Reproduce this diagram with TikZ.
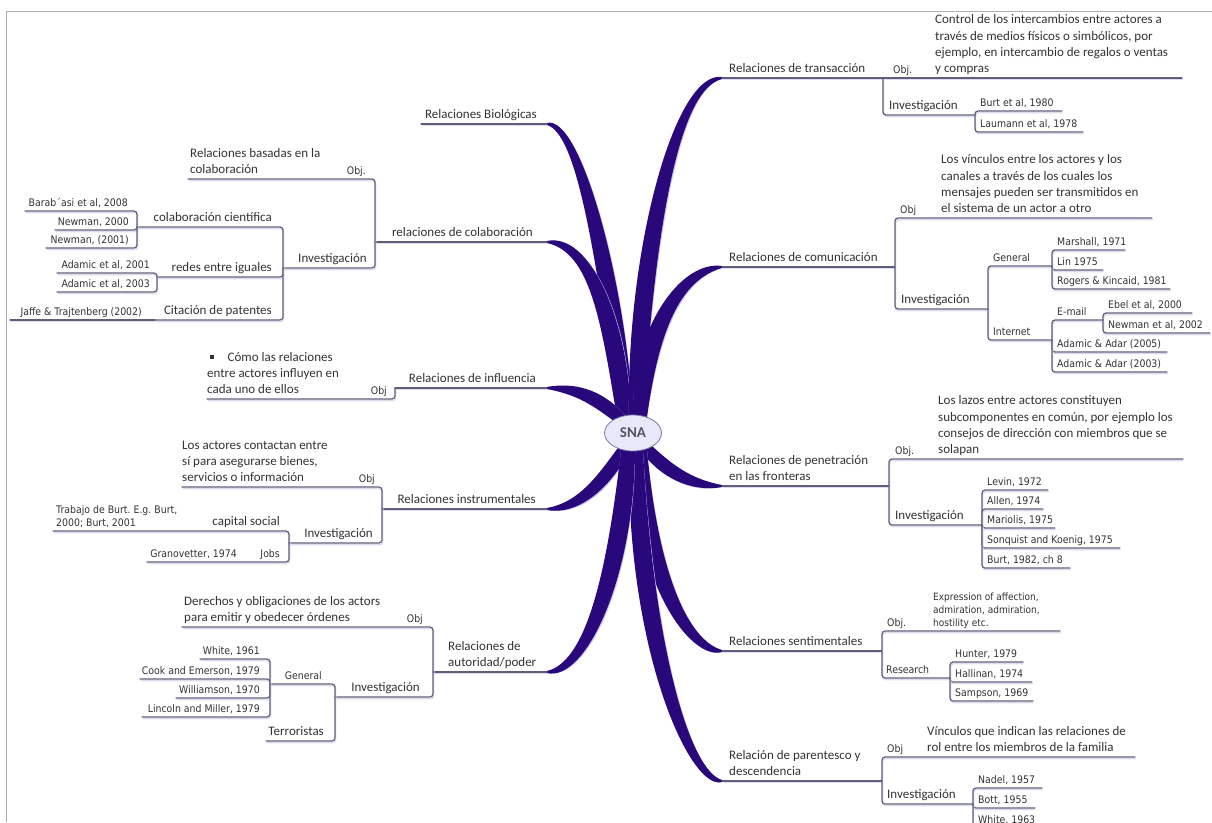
\documentclass[tikz,border=0pt]{standalone}
\usepackage{fontspec}
\setmainfont{Carlito}
\newfontfamily\reffam[FakeStretch=0.9]{DejaVu Sans}
\usetikzlibrary{calc,shapes.geometric,backgrounds}
\definecolor{branchcol}{RGB}{40,8,122}
\definecolor{branchhalo}{RGB}{200,190,245}
\definecolor{linecol}{RGB}{95,95,125}
\definecolor{shadowcol}{RGB}{220,220,234}
\definecolor{textcol}{RGB}{50,50,55}
\definecolor{ellfill}{RGB}{232,232,250}
\definecolor{elldraw}{RGB}{120,120,165}
\definecolor{framecol}{RGB}{175,175,175}
\definecolor{snatext}{RGB}{85,85,95}
\newcommand\topicfont{\fontsize{13}{16.4}\selectfont}
\newcommand\reffont{\fontsize{10.4}{13}\selectfont\reffam}
% #1 start, #2 c1, #3 c2, #4 end, #5 half-width normal at start, #6 factor at c1, #7 factor at c2, #8 half-width normal at end
\newcommand\tbranchpath[8]{($(#1)+#5$) .. controls ($#2+#6*#5$) and ($#3+#7*#8$) .. ($(#4)+#8$) -- ($(#4)-#8$) .. controls ($#3-#7*#8$) and ($#2-#6*#5$) .. ($(#1)-#5$) -- cycle}
\newcommand\tbranch[8]{%
 \fill[branchhalo,shift={(1.3pt,-1.3pt)}] \tbranchpath{#1}{#2}{#3}{#4}{#5}{#6}{#7}{#8};
 \fill[branchcol] \tbranchpath{#1}{#2}{#3}{#4}{#5}{#6}{#7}{#8};}
\tikzset{
 txt/.style={inner sep=0pt, text=textcol, font=\topicfont, execute at end node=\strut},
 reft/.style={txt, font=\reffont},
 multi/.style={align=left},
 tline/.style={draw=linecol, line width=1.2pt, rounded corners=3pt, line cap=round,
   preaction={draw=shadowcol, line width=1.6pt, transform canvas={shift={(0.6pt,-1.6pt)}}}},
}
\frenchspacing
\begin{document}
\begin{tikzpicture}[x=1pt,y=-1pt]
\useasboundingbox (0,0) rectangle (1212,822);
\clip (0,0) rectangle (1212,822);
\draw[framecol, line width=1pt] (1212,11) -- (6,11) -- (6,822);

% centre
\node[ellipse, draw=elldraw, fill=ellfill, line width=0.8pt, minimum width=57pt, minimum height=36pt, inner sep=0pt, font=\fontsize{15}{18}\selectfont\bfseries, text=snatext] (sna) at (633,433) {SNA};

% ---------------- right side ----------------
% transaccion
\node[txt,anchor=south west] (tra) at (729,78) {Relaciones de transacción};
\coordinate (traA) at (722,78); \coordinate (traB) at (883,78);
\node[reft,anchor=south west] (traObj) at (893,78) {Obj.};
\node[txt,multi,anchor=south west] (traObjD) at (935,78) {Control de los intercambios entre actores a\\través de medios físicos o simbólicos, por\\ejemplo, en intercambio de regalos o ventas\\y compras};
\coordinate (traObjE) at (1182,78);
\node[txt,anchor=south west] (traInv) at (889,115) {Investigación};
\coordinate (traInvE) at (975,115);
\node[reft,anchor=south west] (tra1) at (980,111) {Burt et al, 1980}; \coordinate (tra1E) at (1062,111);
\node[reft,anchor=south west] (tra2) at (980,132) {Laumann et al, 1978}; \coordinate (tra2E) at (1083,132);
\draw[tline] (traA) -- (traB);
\draw[tline] (traB) -- (traObjE);
\draw[tline] (traB) |- (traInvE);
\draw[tline] (traInvE) |- (tra1E);
\draw[tline] (traInvE) |- (tra2E);

% comunicacion
\node[txt,anchor=south west] (com) at (729,267) {Relaciones de comunicación};
\coordinate (comA) at (722,267); \coordinate (comB) at (895,267);
\node[reft,anchor=south west] (comObj) at (900,218) {Obj};
\node[txt,multi,anchor=south west] (comObjD) at (941,218) {Los vínculos entre los actores y los\\canales a través de los cuales los\\mensajes pueden ser transmitidos en\\el sistema de un actor a otro};
\coordinate (comObjE) at (1152,218);
\node[txt,anchor=south west] (comInv) at (901,309) {Investigación}; \coordinate (comInvE) at (988,309);
\node[reft,anchor=south west] (comGen) at (993,266) {General}; \coordinate (comGenE) at (1052,266);
\node[reft,anchor=south west] (com1) at (1057,250) {Marshall, 1971}; \coordinate (com1E) at (1125,250);
\node[reft,anchor=south west] (com2) at (1057,270) {Lin 1975}; \coordinate (com2E) at (1103,270);
\node[reft,anchor=south west] (com3) at (1057,289) {Rogers \& Kincaid, 1981}; \coordinate (com3E) at (1170,289);
\node[reft,anchor=south west] (comNet) at (993,340) {Internet}; \coordinate (comNetE) at (1052,340);
\node[reft,anchor=south west] (comMail) at (1057,320) {E-mail}; \coordinate (comMailE) at (1103,320);
\node[reft,anchor=south west] (com4) at (1108,313) {Ebel et al, 2000}; \coordinate (com4E) at (1192,313);
\node[reft,anchor=south west] (com5) at (1108,333) {Newman et al, 2002}; \coordinate (com5E) at (1210,333);
\node[reft,anchor=south west] (com6) at (1057,352) {Adamic \& Adar (2005)}; \coordinate (com6E) at (1167,352);
\node[reft,anchor=south west] (com7) at (1057,372) {Adamic \& Adar (2003)}; \coordinate (com7E) at (1167,372);
\draw[tline] (comA) -- (comB);
\draw[tline] (comB) |- (comObjE);
\draw[tline] (comB) |- (comInvE);
\draw[tline] (comInvE) |- (comGenE);
\draw[tline] (comInvE) |- (comNetE);
\draw[tline] (comGenE) |- (com1E);
\draw[tline] (comGenE) |- (com2E);
\draw[tline] (comGenE) |- (com3E);
\draw[tline] (comNetE) |- (comMailE);
\draw[tline] (comNetE) |- (com6E);
\draw[tline] (comNetE) |- (com7E);
\draw[tline] (comMailE) |- (com4E);
\draw[tline] (comMailE) |- (com5E);

% penetracion
\node[txt,multi,anchor=south west] (pen) at (729,486) {Relaciones de penetración\\en las fronteras};
\coordinate (penA) at (722,486); \coordinate (penB) at (889,486);
\node[reft,anchor=south west] (penObj) at (895,459) {Obj.};
\node[txt,multi,anchor=south west] (penObjD) at (938,459) {Los lazos entre actores constituyen\\subcomponentes en común, por ejemplo los\\consejos de dirección con miembros que se\\solapan};
\coordinate (penObjE) at (1183,459);
\node[txt,anchor=south west] (penInv) at (895,525) {Investigación}; \coordinate (penInvE) at (982,525);
\node[reft,anchor=south west] (pen1) at (987,490) {Levin, 1972}; \coordinate (pen1E) at (1048,490);
\node[reft,anchor=south west] (pen2) at (987,509) {Allen, 1974}; \coordinate (pen2E) at (1043,509);
\node[reft,anchor=south west] (pen3) at (987,528) {Mariolis, 1975}; \coordinate (pen3E) at (1055,528);
\node[reft,anchor=south west] (pen4) at (987,548) {Sonquist and Koenig, 1975}; \coordinate (pen4E) at (1120,548);
\node[reft,anchor=south west] (pen5) at (987,568) {Burt, 1982, ch 8}; \coordinate (pen5E) at (1070,568);
\draw[tline] (penA) -- (penB);
\draw[tline] (penB) |- (penObjE);
\draw[tline] (penB) |- (penInvE);
\foreach \k in {1,...,5} {\draw[tline] (penInvE) |- (pen\k E);}

% sentimentales
\node[txt,anchor=south west] (sen) at (729,651) {Relaciones sentimentales};
\coordinate (senA) at (722,651); \coordinate (senB) at (882,651);
\node[reft,anchor=south west] (senObj) at (887,631) {Obj.};
\node[reft,multi,anchor=south west,font=\fontsize{10}{13}\selectfont\reffam] (senObjD) at (933,631) {Expression of affection,\\admiration, admiration,\\hostility etc.};
\coordinate (senObjE) at (1060,631);
\node[reft,anchor=south west] (senRes) at (886,678) {Research}; \coordinate (senResE) at (950,678);
\node[reft,anchor=south west] (sen1) at (955,662) {Hunter, 1979}; \coordinate (sen1E) at (1023,662);
\node[reft,anchor=south west] (sen2) at (955,682) {Hallinan, 1974}; \coordinate (sen2E) at (1032,682);
\node[reft,anchor=south west] (sen3) at (955,701) {Sampson, 1969}; \coordinate (sen3E) at (1033,701);
\draw[tline] (senA) -- (senB);
\draw[tline] (senB) |- (senObjE);
\draw[tline] (senB) |- (senResE);
\foreach \k in {1,2,3} {\draw[tline] (senResE) |- (sen\k E);}

% parentesco
\node[txt,multi,anchor=south west] (par) at (729,781) {Relación de parentesco y\\descendencia};
\coordinate (parA) at (722,781); \coordinate (parB) at (882,781);
\node[reft,anchor=south west] (parObj) at (887,757) {Obj};
\node[txt,multi,anchor=south west] (parObjD) at (927,757) {Vínculos que indican las relaciones de\\rol entre los miembros de la familia};
\coordinate (parObjE) at (1135,757);
\node[txt,anchor=south west] (parInv) at (887,804) {Investigación}; \coordinate (parInvE) at (973,804);
\node[reft,anchor=south west] (par1) at (978,788) {Nadel, 1957}; \coordinate (par1E) at (1042,788);
\node[reft,anchor=south west] (par2) at (978,808) {Bott, 1955}; \coordinate (par2E) at (1035,808);
\node[reft,anchor=south west] (par3) at (978,828) {White, 1963}; \coordinate (par3E) at (1035,828);
\draw[tline] (parA) -- (parB);
\draw[tline] (parB) |- (parObjE);
\draw[tline] (parB) |- (parInvE);
\foreach \k in {1,2,3} {\draw[tline] (parInvE) |- (par\k E);}

% ---------------- left side ----------------
% biologicas
\node[txt,anchor=south east] (bio) at (537,124) {Relaciones Biológicas};
\coordinate (bioA) at (547,124); \coordinate (bioB) at (421,124);
\draw[tline] (bioA) -- (bioB);

% colaboracion
\node[txt,anchor=south east] (col) at (533,242) {relaciones de colaboración};
\coordinate (colA) at (547,242); \coordinate (colB) at (375,242);
\node[reft,anchor=south east] (colObj) at (366,179) {Obj.};
\node[txt,multi,anchor=south west] (colObjD) at (190,179) {Relaciones basadas en la\\colaboración};
\coordinate (colObjE) at (188,179);
\node[txt,anchor=south east] (colInv) at (367,268) {Investigación}; \coordinate (colInvE) at (283,268);
\node[txt,anchor=south east] (colCien) at (272,227) {colaboración científica}; \coordinate (colCienE) at (137,227);
\node[reft,anchor=south east] (col1) at (128,211) {Barab´asi et al, 2008}; \coordinate (col1E) at (25,211);
\node[reft,anchor=south east] (col2) at (129,230) {Newman, 2000}; \coordinate (col2E) at (55,230);
\node[reft,anchor=south east] (col3) at (129,248) {Newman, (2001)}; \coordinate (col3E) at (46,248);
\node[txt,anchor=south east] (colRed) at (272,277) {redes entre iguales}; \coordinate (colRedE) at (157,277);
\node[reft,anchor=south east] (col4) at (150,273) {Adamic et al, 2001}; \coordinate (col4E) at (57,273);
\node[reft,anchor=south east] (col5) at (150,292) {Adamic et al, 2003}; \coordinate (col5E) at (57,292);
\node[txt,anchor=south east] (colCit) at (272,320) {Citación de patentes}; \coordinate (colCitE) at (155,320);
\node[reft,anchor=south east] (col6) at (142,320) {Jaffe \& Trajtenberg (2002)}; \coordinate (col6E) at (10,320);
\draw[tline] (colA) -- (colB);
\draw[tline] (colB) |- (colObjE);
\draw[tline] (colB) |- (colInvE);
\draw[tline] (colInvE) |- (colCienE);
\draw[tline] (colInvE) |- (colRedE);
\draw[tline] (colInvE) |- (colCitE);
\draw[tline] (colCienE) |- (col1E);
\draw[tline] (colCienE) |- (col2E);
\draw[tline] (colCienE) |- (col3E);
\draw[tline] (colRedE) |- (col4E);
\draw[tline] (colRedE) |- (col5E);
\draw[tline] (colCitE) -- (col6E);

% influencia
\node[txt,anchor=south east] (inf) at (536,388) {Relaciones de influencia};
\coordinate (infA) at (547,388); \coordinate (infB) at (395,388);
\node[reft,anchor=south east] (infObj) at (387,399) {Obj};
\node[txt,multi,anchor=south west] (infObjD) at (207,399) {\hspace*{3pt}\raisebox{2.5pt}{\rule{3.5pt}{3.5pt}}\hspace{14pt}Cómo las relaciones\\entre actores influyen en\\cada uno de ellos};
\coordinate (infObjE) at (207,399);
\draw[tline] (infA) -- (infB);
\draw[tline] (infB) |- (infObjE);

% instrumentales
\node[txt,anchor=south east] (ins) at (536,509) {Relaciones instrumentales};
\coordinate (insA) at (547,509); \coordinate (insB) at (382,509);
\node[reft,anchor=south east] (insObj) at (375,487) {Obj};
\node[txt,multi,anchor=south west] (insObjD) at (182,487) {Los actores contactan entre\\sí para asegurarse bienes,\\servicios o información};
\coordinate (insObjE) at (182,487);
\node[txt,anchor=south east] (insInv) at (373,543) {Investigación}; \coordinate (insInvE) at (289,543);
\node[txt,anchor=south east] (insCap) at (280,531) {capital social}; \coordinate (insCapE) at (53,531);
\node[reft,multi,anchor=south west] (insTra) at (56,531) {Trabajo de Burt. E.g. Burt,\\2000; Burt, 2001};
\node[reft,anchor=south east] (insJobs) at (280,562) {Jobs}; \coordinate (insJobsE) at (147,562);
\node[reft,anchor=south east] (insGra) at (237,562) {Granovetter, 1974};
\draw[tline] (insA) -- (insB);
\draw[tline] (insB) |- (insObjE);
\draw[tline] (insB) |- (insInvE);
\draw[tline] (insInvE) |- (insCapE);
\draw[tline] (insInvE) |- (insJobsE);

% autoridad
\node[txt,multi,anchor=south west] (aut) at (448,672) {Relaciones de\\autoridad/poder};
\coordinate (autA) at (547,672); \coordinate (autB) at (433,672);
\node[reft,anchor=south east] (autObj) at (423,627) {Obj};
\node[txt,multi,anchor=south west] (autObjD) at (184,627) {Derechos y obligaciones de los actors\\para emitir y obedecer órdenes};
\coordinate (autObjE) at (182,627);
\node[txt,anchor=south east] (autInv) at (420,697) {Investigación}; \coordinate (autInvE) at (335,697);
\node[reft,anchor=south east] (autGen) at (322,684) {General}; \coordinate (autGenE) at (270,684);
\node[reft,anchor=south east] (aut1) at (260,659) {White, 1961}; \coordinate (aut1E) at (200,659);
\node[reft,anchor=south east] (aut2) at (260,679) {Cook and Emerson, 1979}; \coordinate (aut2E) at (140,679);
\node[reft,anchor=south east] (aut3) at (260,698) {Williamson, 1970}; \coordinate (aut3E) at (176,698);
\node[reft,anchor=south east] (aut4) at (260,717) {Lincoln and Miller, 1979}; \coordinate (aut4E) at (142,717);
\node[txt,anchor=south east] (autTer) at (324,741) {Terroristas}; \coordinate (autTerE) at (266,741);
\draw[tline] (autA) -- (autB);
\draw[tline] (autB) |- (autObjE);
\draw[tline] (autB) |- (autInvE);
\draw[tline] (autInvE) |- (autGenE);
\draw[tline] (autInvE) |- (autTerE);
\foreach \k in {1,...,4} {\draw[tline] (autGenE) |- (aut\k E);}

% ---------------- branches ----------------
\coordinate (bioS) at ($(sna)+(-7,-15)$);
\coordinate (colS) at ($(sna)+(-9,-15)$);
\coordinate (infS) at ($(sna)+(-11,-13)$);
\coordinate (traS) at ($(sna)+(3,-17)$);
\coordinate (comS) at ($(sna)+(7,-16)$);
\coordinate (penS) at ($(sna)+(12,14)$);
\coordinate (senS) at ($(sna)+(7,17)$);
\coordinate (parS) at ($(sna)+(3,18)$);
\coordinate (insS) at ($(sna)+(-9,16)$);
\coordinate (autS) at ($(sna)+(-5,18)$);
\begin{scope}[on background layer]
\tbranch{bioS}{(612,280)}{(580,124)}{bioA}{(7,0)}{2}{10}{(0,-1)}
\tbranch{colS}{(615,320)}{(590,242)}{colA}{(7,0)}{2}{10}{(0,-1)}
\tbranch{infS}{(600,400)}{(580,388)}{infA}{(3.7,-4.1)}{1.6}{7}{(0,-1)}
\tbranch{traS}{(640,250)}{(675,80)}{traA}{(7,0)}{2}{10}{(0,1)}
\tbranch{comS}{(645,330)}{(680,270)}{comA}{(7,0)}{2}{10}{(0,1)}
\tbranch{penS}{(665,470)}{(690,486)}{penA}{(4.1,-3.6)}{1.6}{7}{(0,-1)}
\tbranch{senS}{(645,580)}{(690,651)}{senA}{(7,0)}{2}{10}{(0,-1)}
\tbranch{parS}{(640,650)}{(690,781)}{parA}{(7,0)}{2}{10}{(0,-1)}
\tbranch{insS}{(605,480)}{(580,509)}{insA}{(4.7,2.9)}{1.6}{7}{(0,1)}
\tbranch{autS}{(620,580)}{(585,672)}{autA}{(7,0)}{2}{10}{(0,1)}
\end{scope}
\end{tikzpicture}
\end{document}
